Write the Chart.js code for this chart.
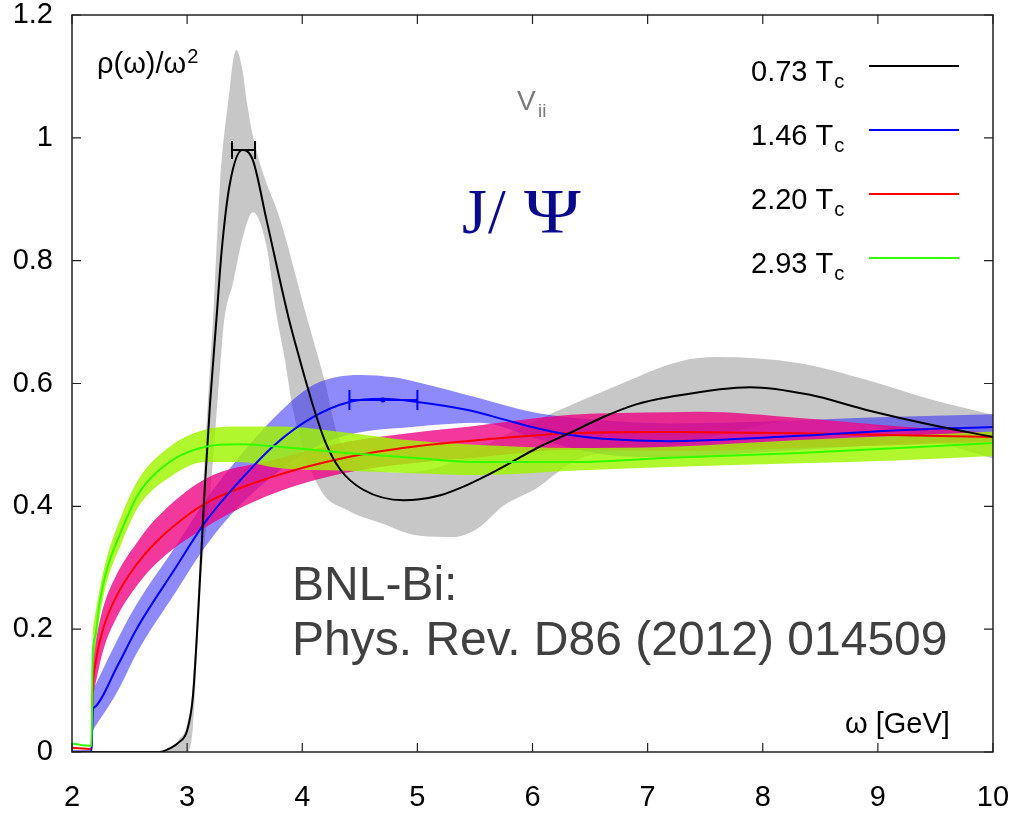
<!DOCTYPE html>
<html>
<head>
<meta charset="utf-8">
<script src="https://cdn.jsdelivr.net/npm/chart.js@4.4.1/dist/chart.umd.min.js"></script>
<style>
  html, body { margin: 0; padding: 0; background: #fff; }
</style>
</head>
<body>
<canvas id="spectral" width="1020" height="816"></canvas>
<script>
// rho(omega)/omega^2 for the four temperatures, with their error bands
const temps = ['0.73', '1.46', '2.20', '2.93'];
const lineColors = ['#000000', '#0000ff', '#ff0000', '#33ff00'];
const bandColors = ['rgba(165,165,165,0.62)', 'rgba(40,30,250,0.52)', 'rgba(238,0,130,0.78)', 'rgba(160,245,0,0.82)'];

const xTicks = [2, 3, 4, 5, 6, 7, 8, 9, 10];
const yTicks = [0, 0.2, 0.4, 0.6, 0.8, 1, 1.2];

// 0.73 Tc
const wBlack = [2.0, 2.76, 2.85, 2.93, 3.0, 3.05, 3.1, 3.15, 3.2, 3.256, 3.3, 3.37, 3.48, 3.57, 3.69, 3.88, 3.98, 4.1, 4.2, 4.33, 4.53, 4.88, 5.0, 5.2, 5.4, 5.6, 5.8, 6.04, 6.33, 6.61, 6.9, 7.19, 7.89, 8.4, 8.9, 9.48, 10.0];
const rhoBlack = [0, 0, 0.006, 0.016, 0.035, 0.09, 0.24, 0.42, 0.57, 0.708, 0.816, 0.924, 0.98, 0.964, 0.866, 0.708, 0.638, 0.56, 0.505, 0.46, 0.427, 0.41, 0.411, 0.418, 0.432, 0.45, 0.47, 0.495, 0.52, 0.545, 0.566, 0.578, 0.594, 0.582, 0.557, 0.532, 0.513];
const wBlackHi = [2.0, 2.76, 2.85, 2.93, 3.0, 3.05, 3.1, 3.15, 3.2, 3.226, 3.24, 3.285, 3.372, 3.4, 3.43, 3.48, 3.52, 3.56, 3.65, 3.81, 4.04, 4.12, 4.2, 4.3, 4.45, 4.6, 4.9, 5.2, 5.5, 5.8, 6.21, 6.7, 7.28, 7.6, 8.32, 8.9, 9.48, 10.0];
const rhoBlackHi = [0, 0, 0.007, 0.02, 0.045, 0.11, 0.28, 0.47, 0.63, 0.708, 0.76, 0.924, 1.083, 1.127, 1.143, 1.11, 1.057, 1.013, 0.948, 0.866, 0.708, 0.655, 0.6, 0.52, 0.475, 0.46, 0.455, 0.465, 0.49, 0.52, 0.555, 0.594, 0.636, 0.643, 0.633, 0.606, 0.573, 0.549];
const wBlackLo = [2.0, 3.0, 3.05, 3.12, 3.2, 3.28, 3.32, 3.4, 3.485, 3.57, 3.69, 3.78, 3.85, 3.92, 4.15, 4.39, 4.68, 5.02, 5.31, 5.54, 5.74, 6.04, 6.33, 6.5, 7.19, 7.7, 8.32, 9.0, 10.0];
const rhoBlackLo = [0, 0, 0.04, 0.28, 0.42, 0.61, 0.7, 0.765, 0.839, 0.879, 0.823, 0.708, 0.638, 0.557, 0.43, 0.394, 0.373, 0.352, 0.35, 0.366, 0.4, 0.43, 0.47, 0.483, 0.497, 0.52, 0.54, 0.53, 0.478];

// 1.46 Tc
const wBlue = [2.0, 2.17, 2.18, 2.19, 2.4, 2.56, 2.9, 3.16, 3.45, 3.76, 4.1, 4.41, 4.7, 5.0, 5.46, 5.74, 6.04, 6.33, 6.61, 7.19, 7.45, 8.32, 9.19, 10.0];
const rhoBlue = [0.001, 0.001, 0.068, 0.072, 0.142, 0.2, 0.3, 0.375, 0.44, 0.5, 0.546, 0.57, 0.575, 0.57, 0.556, 0.542, 0.527, 0.516, 0.51, 0.506, 0.507, 0.515, 0.524, 0.529];
const wBlueHi = [2.18, 2.4, 2.56, 2.9, 3.16, 3.45, 3.76, 4.1, 4.5, 4.8, 5.0, 5.54, 6.04, 6.6, 7.2, 8.0, 9.0, 10.0];
const rhoBlueHi = [0.1, 0.185, 0.24, 0.335, 0.41, 0.48, 0.545, 0.598, 0.614, 0.61, 0.602, 0.576, 0.552, 0.54, 0.535, 0.538, 0.545, 0.55];
const wBlueLo = [2.18, 2.4, 2.56, 2.9, 3.16, 3.45, 3.76, 4.1, 4.39, 5.0, 5.54, 6.04, 6.6, 7.2, 8.0, 9.0, 10.0];
const rhoBlueLo = [0.035, 0.1, 0.16, 0.26, 0.335, 0.4, 0.452, 0.495, 0.516, 0.53, 0.536, 0.51, 0.485, 0.48, 0.488, 0.5, 0.508];

// 2.20 Tc
const wRed = [2.0, 2.17, 2.18, 2.2, 2.27, 2.39, 2.56, 2.72, 3.0, 3.16, 3.74, 4.39, 4.96, 5.54, 6.33, 7.19, 8.32, 10.0];
const rhoRed = [0.007, 0.005, 0.1, 0.14, 0.2, 0.255, 0.305, 0.34, 0.385, 0.405, 0.448, 0.48, 0.497, 0.508, 0.519, 0.521, 0.519, 0.513];
const wRedHi = [2.18, 2.27, 2.39, 2.56, 2.72, 3.16, 3.74, 4.39, 4.96, 5.46, 6.33, 7.19, 7.45, 8.32, 9.2, 10.0];
const rhoRedHi = [0.16, 0.235, 0.29, 0.34, 0.378, 0.445, 0.475, 0.505, 0.52, 0.53, 0.549, 0.553, 0.554, 0.544, 0.53, 0.52];
const wRedLo = [2.18, 2.27, 2.39, 2.56, 2.72, 3.16, 3.74, 4.39, 4.96, 5.54, 6.33, 7.19, 8.32, 9.2, 10.0];
const rhoRedLo = [0.09, 0.165, 0.22, 0.27, 0.305, 0.366, 0.42, 0.455, 0.47, 0.48, 0.492, 0.49, 0.495, 0.5, 0.505];

// 2.93 Tc
const wGreen = [2.0, 2.17, 2.18, 2.2, 2.24, 2.3, 2.43, 2.58, 2.87, 3.16, 3.45, 3.74, 4.39, 4.96, 5.54, 6.33, 7.19, 8.32, 10.0];
const rhoGreen = [0.014, 0.01, 0.16, 0.187, 0.243, 0.295, 0.361, 0.421, 0.475, 0.497, 0.501, 0.498, 0.487, 0.479, 0.472, 0.472, 0.479, 0.487, 0.503];
const wGreenHi = [2.18, 2.24, 2.3, 2.43, 2.58, 2.87, 3.16, 3.45, 3.81, 4.39, 4.96, 5.54, 6.33, 7.19, 8.32, 9.2, 10.0];
const rhoGreenHi = [0.2, 0.265, 0.315, 0.385, 0.445, 0.5, 0.525, 0.53, 0.53, 0.52, 0.507, 0.5, 0.495, 0.497, 0.508, 0.515, 0.522];
const wGreenLo = [2.18, 2.24, 2.3, 2.43, 2.58, 2.87, 3.16, 3.45, 3.81, 4.39, 4.96, 5.54, 6.33, 7.19, 8.32, 9.2, 10.0];
const rhoGreenLo = [0.14, 0.22, 0.275, 0.34, 0.4, 0.45, 0.472, 0.472, 0.462, 0.458, 0.454, 0.451, 0.458, 0.464, 0.47, 0.475, 0.482];

// peak positions with horizontal errors (0.73 Tc and 1.46 Tc)
const peakLo = [3.39, 4.41];
const peakMid = [3.48, 4.70];
const peakHi = [3.59, 5.00];
const peakRho = [0.98, 0.573];
const peakColors = ['#000000', '#0000ff'];

const FONT = "'Liberation Sans', Arial, Helvetica, sans-serif";

function pts(xs, ys) {
  return xs.map((x, i) => ({ x: x, y: ys[i] }));
}

const curves = [
  [wBlack, rhoBlack], [wBlue, rhoBlue], [wRed, rhoRed], [wGreen, rhoGreen]
];
const bands = [
  [wBlackHi, rhoBlackHi, wBlackLo, rhoBlackLo],
  [wBlueHi, rhoBlueHi, wBlueLo, rhoBlueLo],
  [wRedHi, rhoRedHi, wRedLo, rhoRedLo],
  [wGreenHi, rhoGreenHi, wGreenLo, rhoGreenLo]
];

const datasets = [];
curves.forEach((c, i) => {
  datasets.push({
    label: temps[i] + ' Tc',
    data: pts(c[0], c[1]),
    borderColor: lineColors[i],
    borderWidth: 2,
    pointRadius: 0,
    fill: false,
    cubicInterpolationMode: 'monotone',
    order: i === 3 ? 0 : 1
  });
});
bands.forEach((b, i) => {
  const upperIndex = datasets.length;
  datasets.push({
    data: pts(b[0], b[1]),
    borderWidth: 0,
    borderColor: 'rgba(0,0,0,0)',
    pointRadius: 0,
    fill: false,
    cubicInterpolationMode: 'monotone',
    order: 10 - i
  });
  datasets.push({
    data: pts(b[2], b[3]),
    borderWidth: 0,
    borderColor: 'rgba(0,0,0,0)',
    backgroundColor: bandColors[i],
    pointRadius: 0,
    fill: { target: upperIndex },
    cubicInterpolationMode: 'monotone',
    order: 10 - i
  });
});

// frame with inward ticks on all four sides
const framePlugin = {
  id: 'frame',
  afterDatasetsDraw(chart) {
    const { ctx, chartArea: a, scales } = chart;
    ctx.save();
    ctx.strokeStyle = '#222';
    ctx.lineWidth = 1.5;
    ctx.strokeRect(a.left, a.top, a.right - a.left, a.bottom - a.top);
    ctx.lineWidth = 1.2;
    ctx.beginPath();
    xTicks.forEach(v => {
      const px = scales.x.getPixelForValue(v);
      ctx.moveTo(px, a.bottom); ctx.lineTo(px, a.bottom - 9);
      ctx.moveTo(px, a.top); ctx.lineTo(px, a.top + 9);
    });
    yTicks.forEach(v => {
      const py = scales.y.getPixelForValue(v);
      ctx.moveTo(a.left, py); ctx.lineTo(a.left + 9, py);
      ctx.moveTo(a.right, py); ctx.lineTo(a.right - 9, py);
    });
    ctx.stroke();
    ctx.restore();
  }
};

// horizontal error bars on the peak positions
const peakPlugin = {
  id: 'peaks',
  afterDatasetsDraw(chart) {
    const { ctx, scales } = chart;
    ctx.save();
    peakMid.forEach((m, i) => {
      const y = scales.y.getPixelForValue(peakRho[i]);
      const x0 = scales.x.getPixelForValue(peakLo[i]);
      const x1 = scales.x.getPixelForValue(peakHi[i]);
      const xm = scales.x.getPixelForValue(m);
      const cap = i === 0 ? 9 : 10;
      ctx.strokeStyle = peakColors[i];
      ctx.fillStyle = peakColors[i];
      ctx.lineWidth = 2;
      ctx.beginPath();
      ctx.moveTo(x0, y); ctx.lineTo(x1, y);
      ctx.moveTo(x0, y - cap); ctx.lineTo(x0, y + cap);
      ctx.moveTo(x1, y - cap); ctx.lineTo(x1, y + cap);
      ctx.stroke();
      if (i === 1) {
        ctx.beginPath();
        ctx.arc(xm, y, 2.5, 0, Math.PI * 2);
        ctx.fill();
      }
    });
    ctx.restore();
  }
};

// key, axis titles and captions
const textPlugin = {
  id: 'captions',
  afterDraw(chart) {
    const { ctx } = chart;
    ctx.save();
    ctx.textBaseline = 'alphabetic';
    ctx.textAlign = 'left';

    // key
    temps.forEach((t, i) => {
      const ly = 66 + i * 64;
      ctx.fillStyle = '#000';
      ctx.font = '29px ' + FONT;
      const main = t + ' T';
      ctx.fillText(main, 751, ly + 15);
      const w = ctx.measureText(main).width;
      ctx.font = '20px ' + FONT;
      ctx.fillText('c', 751 + w + 1, ly + 22);
      ctx.strokeStyle = lineColors[i];
      ctx.lineWidth = 2;
      ctx.beginPath();
      ctx.moveTo(869, ly); ctx.lineTo(959, ly);
      ctx.stroke();
    });

    // y title
    ctx.fillStyle = '#000';
    ctx.font = '29px ' + FONT;
    const yt = '\u03c1(\u03c9)/\u03c9';
    ctx.fillText(yt, 97, 73);
    const yw = ctx.measureText(yt).width;
    ctx.font = '20px ' + FONT;
    ctx.fillText('2', 97 + yw + 1, 63);

    // x title
    ctx.font = '29px ' + FONT;
    ctx.fillText('\u03c9 [GeV]', 845, 733);

    // channel
    ctx.fillStyle = '#7a7a7a';
    ctx.font = '28px ' + FONT;
    ctx.fillText('V', 517, 110);
    ctx.font = '19px ' + FONT;
    ctx.fillText('ii', 538, 117);

    ctx.fillStyle = '#0a0a8c';
    ctx.font = '64px "Liberation Serif", "Times New Roman", serif';
    ctx.fillText('J', 462, 233);
    ctx.fillText('/', 488, 233);
    ctx.save();
    ctx.translate(524, 233);
    ctx.scale(1.2, 1);
    ctx.fillText('\u03a8', 0, 0);
    ctx.restore();

    ctx.fillStyle = '#404040';
    ctx.font = '48px ' + FONT;
    ctx.fillText('BNL-Bi:', 292, 600);
    ctx.fillText('Phys. Rev. D86 (2012) 014509', 292, 655);
    ctx.restore();
  }
};

new Chart(document.getElementById('spectral'), {
  type: 'line',
  data: { datasets: datasets },
  options: {
    responsive: false,
    animation: false,
    events: [],
    layout: { padding: { top: 15, right: 27, left: 0, bottom: 0 } },
    plugins: {
      legend: { display: false },
      tooltip: { enabled: false },
      filler: { propagate: false }
    },
    scales: {
      x: {
        type: 'linear',
        min: 2,
        max: 10,
        afterFit: s => { s.height = 64; s.paddingLeft = 0; s.paddingRight = 0; },
        afterBuildTicks: s => { s.ticks = xTicks.map(v => ({ value: v })); },
        grid: { display: false, drawTicks: false },
        border: { display: false },
        ticks: { color: '#000', padding: 29, font: { size: 29, family: FONT }, maxRotation: 0 }
      },
      y: {
        type: 'linear',
        min: 0,
        max: 1.2,
        afterFit: s => { s.width = 72; s.paddingTop = 0; s.paddingBottom = 0; },
        afterBuildTicks: s => { s.ticks = yTicks.map(v => ({ value: v })); },
        grid: { display: false, drawTicks: false },
        border: { display: false },
        ticks: {
          color: '#000',
          padding: 19,
          font: { size: 29, family: FONT },
          callback: v => String(+v.toFixed(1))
        }
      }
    }
  },
  plugins: [framePlugin, peakPlugin, textPlugin]
});
</script>
</body>
</html>
